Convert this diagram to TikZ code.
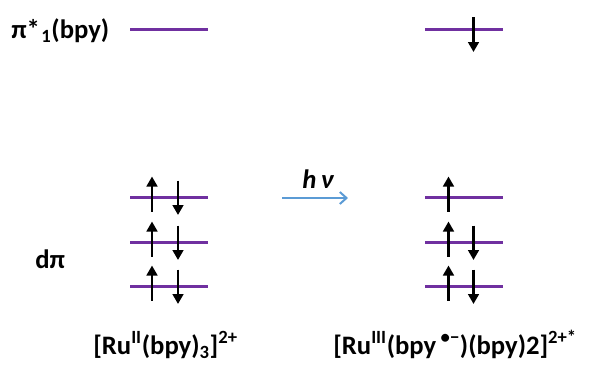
\documentclass[tikz,border=0pt]{standalone}
\usepackage{fontspec}
\setmainfont{Carlito}
\usetikzlibrary{arrows.meta}
\definecolor{orbpurple}{HTML}{7030A0}
\definecolor{photonblue}{HTML}{5B9BD5}
\tikzset{
  level/.style={orbpurple,line width=2.6pt},
  spin/.style={line width=2pt,-{Triangle[length=7.5pt,width=8pt]}},
  lab/.style={font=\fontsize{20}{22}\selectfont\bfseries,inner sep=0pt,anchor=base west},
}
\begin{document}
\begin{tikzpicture}[x=0.75pt,y=-0.75pt]
\useasboundingbox (0,0) rectangle (596,365);
% pi* levels
\draw[level] (130,29.5) -- (208,29.5);
\draw[level] (425,29.5) -- (503,29.5);
\draw[spin] (473.5,17) -- (473.5,52);
% d pi levels
\foreach \y in {197.5,242.5,286.5} {
  \draw[level] (130,\y) -- (208,\y);
  \draw[level] (425,\y) -- (503,\y);
  \draw[spin] (152,\y+14) -- (152,\y-21);
  \draw[spin] (178,\y-17) -- (178,\y+17.5);
  \draw[spin] (448.5,\y+14) -- (448.5,\y-21);
}
\foreach \y in {242.5,286.5}
  \draw[spin] (473.5,\y-17) -- (473.5,\y+17.5);
% labels
\node[lab] (pistar) at (11,38) {π*\kern1pt\textsubscript{1}(bpy)};
\node[lab] (dpi) at (35,268) {dπ};
\node[lab] (ground) at (93,354) {[Ru\textsuperscript{II}(bpy)\textsubscript{3}]\textsuperscript{2+}};
\node[lab] (excited) at (333,354) {[Ru\textsuperscript{III}(bpy\,\textsuperscript{•−})(bpy)2]\textsuperscript{2+*}};
% excitation
\coordinate (hvstart) at (282,198);
\coordinate (hvend) at (348,198);
\draw[photonblue,line width=1.5pt,-{Straight Barb[length=5pt,width=9pt]}] (hvstart) -- (hvend);
\node[lab] (hv) at (302,188) {\itshape h\,ν};
\end{tikzpicture}
\end{document}
